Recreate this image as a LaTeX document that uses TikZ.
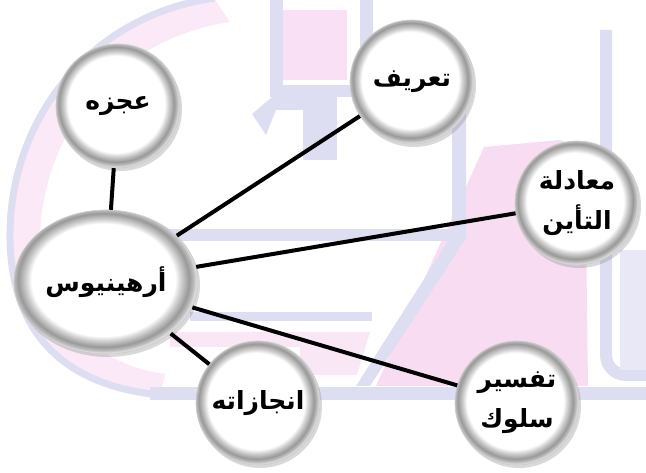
\documentclass[tikz,border=0pt]{standalone}
\usepackage{fontspec}
\newfontfamily\arabicfont[Script=Arabic]{DejaVu Sans}
\TeXXeTstate=1
\usetikzlibrary{shapes.geometric,shadows}
\definecolor{wmpink}{RGB}{247,214,240}
\definecolor{wmlav}{RGB}{222,222,242}
\pgfdeclareradialshading{glassrim}{\pgfpoint{-1.2bp}{1.2bp}}{color(0bp)=(white); color(19.5bp)=(white); color(21bp)=(gray!35); color(23.2bp)=(gray!80); color(24.5bp)=(gray!50); color(25bp)=(gray!30); color(50bp)=(gray!30)}

\begin{document}
\begin{tikzpicture}[x=1pt,y=-1pt,
	bubble/.style={circle, minimum size=124pt, inner sep=0pt, shading=glassrim, draw=gray!40, line width=0.6pt, drop shadow={opacity=0.3, shadow xshift=2pt, shadow yshift=-3pt}},
	hub/.style={bubble, ellipse, minimum width=184pt, minimum height=144pt},
	link/.style={line width=4pt, black}]
	\tikzstyle{every node}=[font=\arabicfont\bfseries\fontsize{25}{40}\selectfont, align=center]
	\useasboundingbox (0,0) rectangle (646,473);
	
	\fill [wmpink!55] (215,0) .. controls (90,15) and (8,120) .. (10,240) .. controls (12,330) and (60,385) .. (160,395) -- (165,374) .. controls (82,362) and (40,300) .. (40,238) .. controls (42,135) and (112,40) .. (230,22) -- cycle;
	\draw [wmlav, line width=7pt] (215,-2) .. controls (90,15) and (8,120) .. (10,240) .. controls (12,330) and (60,385) .. (160,395);
	
	\fill [wmpink!75] (283,10) rectangle (347,80);
	\fill [wmlav] (270,0) rectangle (283,97);
	\fill [wmlav] (283,85) rectangle (373,97);
	\fill [wmlav] (360,0) rectangle (373,97);
	\fill [wmlav] (303,97) rectangle (337,160);
	\fill [wmlav] (252,114) -- (272,97) -- (303,97) -- (303,110) -- (276,110) -- (266,135) -- cycle;
	
	\fill [wmpink!85] (484,147) -- (560,140) -- (585,150) -- (588,386) -- (376,386) -- cycle;
	\fill [wmpink!60] (170,332) -- (370,332) -- (357,375) -- (300,375) -- (300,347) -- (170,347) -- cycle;
	\fill [wmlav] (452,110) -- (466,110) -- (466,238) -- (370,386) -- (356,386) -- (452,235) -- cycle;
	\fill [wmlav] (140,229) rectangle (455,241);
	\fill [wmlav] (190,312) rectangle (372,321);
	\fill [wmlav] (150,387) rectangle (646,400);
	\draw [wmlav, line width=12pt, rounded corners=20pt] (606,30) -- (606,375) -- (660,375);
	\fill [wmlav!70] (620,250) rectangle (646,370);
	
	\node [hub] (arhenius) at (106,282) {\beginR أرهينيوس\endR};
	\node [bubble] (ajz) at (118,106) {\beginR عجزه\endR};
	\node [bubble] (taarif) at (412,82) {\beginR تعريف\endR};
	\node [bubble] (muadala) at (577,203) {\beginR معادلة\endR\\\beginR التأين\endR};
	\node [bubble] (tafsir) at (517,403) {\beginR تفسير\endR\\\beginR سلوك\endR};
	\node [bubble] (injazat) at (258,403) {\beginR انجازاته\endR};
	
	\draw [link] (arhenius) -- (ajz);
	\draw [link] (arhenius) -- (taarif);
	\draw [link] (arhenius) -- (muadala);
	\draw [link] (arhenius) -- (tafsir);
	\draw [link] (arhenius) -- (injazat);
	
\end{tikzpicture}
\end{document}
